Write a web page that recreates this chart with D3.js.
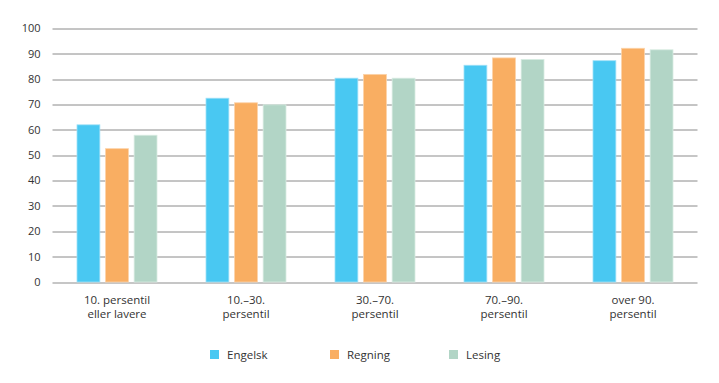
<!DOCTYPE html>
<html>
<head>
<meta charset="utf-8">
<script src="https://cdn.jsdelivr.net/npm/d3@7"></script>
<style>
  body { margin: 0; background: #fff; }
  svg text { font-family: "Open Sans", "Noto Sans", sans-serif; fill: #333; }
</style>
</head>
<body>
<svg id="chart" width="719" height="383"></svg>
<script>
// categories and series
const categories = [
  ["10. persentil", "eller lavere"],
  ["10.\u201330.", "persentil"],
  ["30.\u201370.", "persentil"],
  ["70.\u201390.", "persentil"],
  ["over 90.", "persentil"]
];
const seriesNames = ["Engelsk", "Regning", "Lesing"];
const engelsk = [62.0, 72.5, 80.4, 85.5, 87.3];
const regning = [52.6, 70.7, 81.9, 88.4, 92.2];
const lesing = [57.9, 69.9, 80.4, 87.8, 91.6];
const yTicks = [0, 10, 20, 30, 40, 50, 60, 70, 80, 90, 100];

const colors = ["#49c8f2", "#f9ae62", "#b2d5c6"];
const edge = ["#9fe0f7", "#fcd3a9", "#d8ebe2"];
const values = [engelsk, regning, lesing];

const margin = { top: 28.5, right: 21.5, bottom: 101, left: 52.5 };
const fullWidth = 719, fullHeight = 383;
const width = fullWidth - margin.left - margin.right;
const height = fullHeight - margin.top - margin.bottom;

const svg = d3.select('#chart');
const g = svg.append('g')
  .attr('transform', 'translate(' + margin.left + ',' + margin.top + ')');

const x0 = d3.scaleBand()
  .domain(d3.range(categories.length))
  .range([0, width]);

const x1 = d3.scaleBand()
  .domain(d3.range(seriesNames.length))
  .range([0, 80])
  .paddingInner(0.2);

const y = d3.scaleLinear().domain([0, 100]).range([height, 0]);

// grid lines
g.selectAll('.grid')
  .data(yTicks)
  .join('line')
  .attr('x1', 0)
  .attr('x2', width)
  .attr('y1', d => Math.round(y(d)) + 0.5)
  .attr('y2', d => Math.round(y(d)) + 0.5)
  .attr('stroke', d => (d === 0 || d === 50) ? '#c6c6c6' : '#8a8a8a')
  .attr('stroke-width', d => (d === 0 || d === 50) ? 2 : 1);

// y tick labels
g.selectAll('.ytick')
  .data(yTicks)
  .join('text')
  .attr('x', -12)
  .attr('y', d => y(d))
  .attr('dy', '0.35em')
  .attr('text-anchor', 'end')
  .style('font-size', '11px')
  .text(d => d);

// bars
const groups = g.selectAll('.cat')
  .data(categories)
  .join('g')
  .attr('transform', (d, i) => 'translate(' + (x0(i) + x0.bandwidth() / 2 - 40) + ',0)');

groups.selectAll('rect')
  .data((d, i) => values.map((s, k) => ({ k: k, v: s[i] })))
  .join('rect')
  .attr('x', d => x1(d.k))
  .attr('width', x1.bandwidth())
  .attr('y', d => y(d.v))
  .attr('height', d => height - y(d.v))
  .attr('fill', d => colors[d.k])
  .attr('stroke', d => edge[d.k])
  .attr('stroke-width', 0.8);

// category labels
const labels = g.selectAll('.xlab')
  .data(categories)
  .join('text')
  .attr('text-anchor', 'middle')
  .attr('transform', (d, i) => 'translate(' + (x0(i) + x0.bandwidth() / 2) + ',' + (height + 21.5) + ')')
  .style('font-size', '11.5px');
labels.selectAll('tspan')
  .data(d => d)
  .join('tspan')
  .attr('x', 0)
  .attr('dy', (d, i) => i === 0 ? 0 : 14)
  .text(d => d);

// legend
const legendX = [210, 330, 449];
const legend = svg.selectAll('.legend')
  .data(seriesNames)
  .join('g')
  .attr('transform', (d, i) => 'translate(' + legendX[i] + ',350)');
legend.append('rect')
  .attr('width', 9)
  .attr('height', 9)
  .attr('fill', (d, i) => colors[i]);
legend.append('text')
  .attr('x', 17)
  .attr('y', 4.5)
  .attr('dy', '0.35em')
  .style('font-size', '11.5px')
  .text(d => d);
</script>
</body>
</html>
